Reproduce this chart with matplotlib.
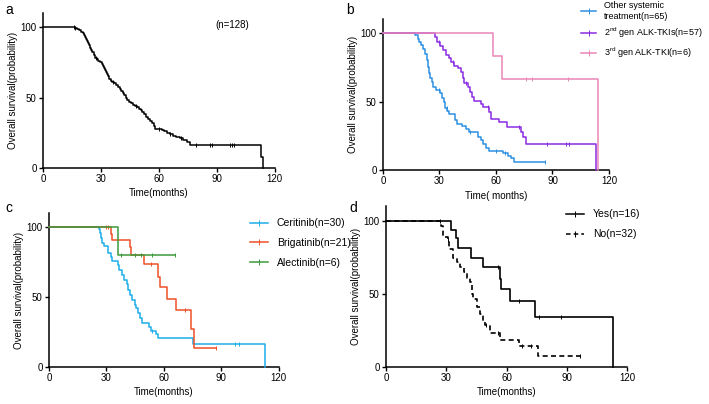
import matplotlib
matplotlib.use("Agg")
import matplotlib.pyplot as plt
from matplotlib.lines import Line2D
import numpy as np

plt.rcParams["font.family"] = ["Liberation Sans", "DejaVu Sans"]
plt.rcParams["mathtext.fontset"] = "custom"
plt.rcParams["mathtext.rm"] = "Liberation Sans"

# ---- panel a: all patients (drop time, survival after drop) ----
a_t = [16.5, 17.5, 18.5, 19.5, 20.5, 21.2, 21.8, 22.4, 22.9, 23.4,
       23.9, 24.4, 25.0, 25.6, 26.2, 26.9, 27.8, 28.6, 29.5, 30.3,
       30.9, 31.5, 32.0, 32.6, 33.2, 33.8, 34.4, 35.0, 35.8, 36.8,
       38.0, 39.0, 39.8, 40.6, 41.5, 42.2, 42.9, 43.7, 44.5, 45.5,
       46.5, 47.5, 48.5, 49.5, 50.5, 51.5, 52.5, 53.5, 54.5, 55.5,
       56.5, 57.3, 58.2, 61.4, 62.8, 64.3, 65.7, 67.3, 69.0, 70.9,
       72.5, 74.3, 76.0, 112.6, 114.0]
a_s = [99.2, 98.4, 97.6, 96.8, 96.0, 94.5, 93.0, 91.5, 90.0, 88.5,
       87.0, 85.0, 83.5, 82.0, 80.0, 78.0, 77.0, 76.0, 75.0, 74.0,
       72.5, 71.0, 69.5, 68.0, 66.5, 65.0, 63.5, 62.0, 61.0, 60.0,
       59.0, 57.5, 56.0, 54.5, 53.0, 51.5, 50.0, 48.5, 47.0, 46.0,
       45.0, 44.0, 43.0, 42.0, 41.0, 39.5, 38.0, 36.5, 35.0, 33.5,
       32.0, 30.0, 28.0, 27.0, 26.0, 25.0, 24.0, 23.0, 22.0, 21.0,
       20.0, 18.7, 16.3, 8.0, 0.0]
a_cens = [16.0, 16.8, 27.5, 36.0, 48.0, 60.0, 66.0, 71.5, 79.0, 86.5, 87.5, 97.0, 98.0, 99.0]

# ---- panel b: by treatment ----
other_t = [16.8, 18.5, 19.4, 20.3, 21.5, 22.6, 23.3, 23.8, 24.4, 25.1, 26.1, 26.8, 28.2,
           30.4, 31.4, 32.3, 33.2, 34.1, 35.3, 38.5, 39.2, 42.0, 44.1, 45.5, 50.3, 52.1,
           52.9, 54.7, 56.1, 63.5, 66.2, 67.9, 69.7]
other_s = [98.5, 96.0, 93.7, 91.2, 88.3, 85.0, 80.0, 75.4, 70.6, 67.0, 64.0, 60.8, 58.4,
           56.0, 52.3, 49.4, 45.5, 43.0, 40.6, 36.5, 34.0, 32.4, 30.0, 27.5, 24.3, 21.9,
           18.7, 16.3, 13.9, 12.2, 10.5, 8.5, 6.0]
other_end = 86.0
other_cens = [30.0, 34.0, 46.0, 60.0, 65.0, 86.0]

gen2_t = [27.4, 28.6, 30.4, 32.1, 33.5, 35.3, 36.2, 37.9, 39.7, 41.5, 42.4, 43.2, 45.0,
          46.2, 47.3, 48.5, 52.1, 52.9, 56.5, 57.4, 61.8, 65.6, 73.2, 74.1, 75.9, 113.3]
gen2_s = [97.3, 93.7, 90.8, 87.6, 84.0, 81.5, 79.0, 76.2, 74.2, 71.8, 67.0, 63.3, 60.8,
          57.2, 53.5, 50.4, 48.0, 46.2, 42.6, 37.0, 34.8, 31.6, 28.0, 24.3, 19.4, 0.0]
gen2_cens = [30.0, 37.0, 44.0, 56.0, 72.0, 87.0, 97.0, 99.0]

gen3_t = [58.3, 63.0, 114.4]
gen3_s = [83.3, 66.7, 0.0]
gen3_cens = [76.0, 79.3, 98.2]

# ---- panel c: by 2nd gen drug ----
cer_t = [26.2, 26.7, 27.4, 27.9, 28.8, 31.0, 32.3, 33.1, 35.8, 36.6, 38.0, 39.2, 40.5,
         41.5, 42.4, 43.3, 45.0, 45.7, 46.7, 47.4, 48.5, 52.0, 53.2, 55.8, 57.2, 75.0, 113.0]
cer_s = [98.3, 95.5, 91.9, 88.3, 86.4, 81.2, 78.8, 76.0, 72.9, 69.3, 65.7, 62.1, 59.3,
         55.0, 51.4, 47.9, 44.3, 41.9, 38.3, 34.8, 31.2, 28.3, 26.0, 23.6, 20.5, 16.2, 0.0]
cer_cens = [54.0, 97.0, 99.0]

bri_t = [32.3, 33.1, 42.2, 43.1, 49.4, 57.2, 57.9, 61.9, 66.3, 74.1, 75.9]
bri_s = [95.2, 90.5, 85.7, 80.0, 73.6, 64.5, 57.4, 48.6, 40.7, 26.9, 13.8]
bri_end = 87.0
bri_cens = [30.0, 31.0, 53.5, 70.8, 87.0]

ale_t = [35.8]
ale_s = [80.0]
ale_end = 65.6
ale_cens = [37.8, 44.8, 48.3, 53.8, 65.6]

# ---- panel d: yes / no ----
yes_t = [32.5, 35.0, 35.8, 42.3, 48.3, 56.6, 57.4, 61.6, 74.4, 112.9]
yes_s = [93.8, 88.1, 81.2, 75.0, 68.2, 60.6, 53.1, 45.5, 34.1, 0.0]
yes_cens = [56.0, 66.0, 76.0, 87.0]

no_t = [27.4, 28.4, 30.7, 31.2, 33.4, 35.4, 37.0, 38.7, 40.3, 42.0, 42.8, 43.3, 45.3,
        46.9, 48.3, 49.5, 51.6, 57.0, 66.0, 75.5]
no_s = [96.9, 89.0, 87.0, 81.0, 74.4, 72.0, 68.6, 65.0, 61.3, 58.4, 50.3, 46.9, 41.0,
        36.6, 30.9, 28.6, 23.3, 18.8, 14.2, 7.3]
no_end = 96.8
no_cens = [27.0, 31.0, 50.0, 56.0, 67.5, 72.0, 96.8]

XTICKS = [0, 30, 60, 90, 120]
YTICKS = [0, 50, 100]
FS = 7


def surv_at(times, survs, t):
    i = np.searchsorted(times, t, side="right")
    return 100.0 if i == 0 else survs[i - 1]


def km(ax, times, survs, color, end=None, cens=(), lw=1.1, ls="-"):
    x = [0.0] + list(times)
    y = [100.0] + list(survs)
    if end is not None and end > x[-1]:
        x.append(end)
        y.append(y[-1])
    ax.step(x, y, where="post", color=color, lw=lw, ls=ls, clip_on=False, zorder=3)
    cy = [surv_at(times, survs, c) for c in cens]
    ax.plot(cens, cy, ls="none", marker="|", ms=3.5, mew=0.7, color=color, clip_on=False, zorder=3)


def style(ax, xlabel):
    for s in ("top", "right"):
        ax.spines[s].set_visible(False)
    for s in ("left", "bottom"):
        ax.spines[s].set_linewidth(1.1)
    ax.set_xlim(0, 120)
    ax.set_ylim(0, 110)
    ax.set_xticks(XTICKS)
    ax.set_yticks(YTICKS)
    ax.tick_params(labelsize=FS, length=3, width=1.0, pad=1.5)
    ax.set_xlabel(xlabel, fontsize=FS, labelpad=3)
    ax.set_ylabel("Overall survival(probability)", fontsize=FS, labelpad=2)


def handle(ls="-", color="black"):
    return Line2D([], [], color=color, lw=1.1, ls=ls, marker="|", ms=4, mew=0.7)


fig = plt.figure(figsize=(7.09, 4.04), dpi=100)
ax_a = fig.add_axes([0.0606, 0.584, 0.327, 0.384])
ax_b = fig.add_axes([0.540, 0.579, 0.319, 0.373])
ax_c = fig.add_axes([0.0691, 0.0916, 0.324, 0.381])
ax_d = fig.add_axes([0.5444, 0.0916, 0.340, 0.3975])

# a
km(ax_a, a_t, a_s, "black", cens=a_cens)
style(ax_a, "Time(months)")
ax_a.text(0.815, 0.92, "(n=128)", transform=ax_a.transAxes, fontsize=FS, ha="center", va="center")

# b
c_other, c_gen2, c_gen3 = "#2D8FE0", "#8A2BE2", "#EA86B6"
km(ax_b, other_t, other_s, c_other, end=other_end, cens=other_cens)
km(ax_b, gen2_t, gen2_s, c_gen2, cens=gen2_cens)
km(ax_b, gen3_t, gen3_s, c_gen3, cens=gen3_cens)
style(ax_b, "Time( months)")
ax_b.legend([handle(color=c) for c in (c_other, c_gen2, c_gen3)],
            ["Other systemic\ntreatment(n=65)", r"2$^{\mathrm{nd}}$ gen ALK-TKIs(n=57)",
             r"3$^{\mathrm{rd}}$ gen ALK-TKI(n=6)"],
            loc="upper left", bbox_to_anchor=(0.820, 0.997), bbox_transform=fig.transFigure,
            frameon=False, fontsize=6.5, handlelength=1.6, handletextpad=0.9,
            labelspacing=0.6, borderaxespad=0, borderpad=0)

# c
c_cer, c_bri, c_ale = "#1EAEEA", "#EE5128", "#3C9A3C"
km(ax_c, cer_t, cer_s, c_cer, cens=cer_cens)
km(ax_c, bri_t, bri_s, c_bri, end=bri_end, cens=bri_cens)
km(ax_c, ale_t, ale_s, c_ale, end=ale_end, cens=ale_cens)
style(ax_c, "Time(months)")
ax_c.legend([handle(color=c) for c in (c_cer, c_bri, c_ale)],
            ["Ceritinib(n=30)", "Brigatinib(n=21)", "Alectinib(n=6)"],
            loc="upper left", bbox_to_anchor=(0.352, 0.460), bbox_transform=fig.transFigure,
            frameon=False, fontsize=FS + 0.5, handlelength=1.75, handletextpad=0.85,
            labelspacing=0.95, borderaxespad=0, borderpad=0)

# d
km(ax_d, yes_t, yes_s, "black", cens=yes_cens, lw=1.2)
km(ax_d, no_t, no_s, "black", end=no_end, cens=no_cens, lw=1.2, ls=(0, (3, 2)))
style(ax_d, "Time(months)")
ax_d.legend([handle(), handle(ls=(0, (3, 2)))], ["Yes(n=16)", "No(n=32)"],
            loc="upper left", bbox_to_anchor=(0.799, 0.482), bbox_transform=fig.transFigure,
            frameon=False, fontsize=FS + 0.5, handlelength=1.7, handletextpad=0.85,
            labelspacing=0.95, borderaxespad=0, borderpad=0)

for lab, x, y in (("a", 0.008, 0.975), ("b", 0.488, 0.975), ("c", 0.008, 0.485), ("d", 0.493, 0.485)):
    fig.text(x, y, lab, fontsize=10, ha="left", va="center")

fig.savefig("out.png", dpi=100)
